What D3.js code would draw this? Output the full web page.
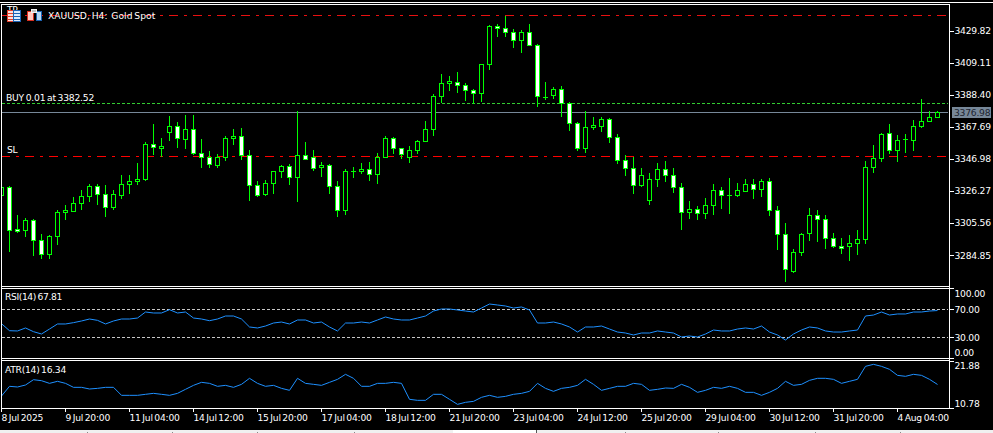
<!DOCTYPE html>
<html>
<head>
<meta charset="utf-8">
<script src="https://cdn.jsdelivr.net/npm/d3@7"></script>
<style>
html,body{margin:0;padding:0;background:#000;overflow:hidden}
svg{display:block}
text{font-family:"DejaVu Sans",sans-serif;font-size:9.2px;fill:#fff;letter-spacing:-.25px;word-spacing:-1px}
</style>
</head>
<body>
<svg id="c" width="993" height="433"></svg>
<script>
const opens=[3323.2,3328.4,3301.3,3300.6,3307.1,3294.2,3285.1,3296.7,3312.2,3312.9,3318.1,3322.6,3329.0,3323.9,3315.5,3323.2,3330.3,3332.3,3333.6,3356.2,3353.6,3363.9,3367.8,3359.4,3365.9,3350.4,3347.8,3342.6,3347.8,3360.1,3361.3,3349.1,3329.7,3323.9,3331.0,3338.7,3342.0,3334.9,3349.1,3347.8,3341.3,3342.6,3329.0,3313.5,3338.7,3338.7,3340.0,3336.8,3347.8,3360.1,3353.6,3347.8,3352.3,3358.1,3365.9,3387.2,3395.6,3396.2,3394.3,3391.1,3389.1,3407.9,3432.4,3431.1,3428.5,3423.4,3428.5,3420.1,3386.5,3387.8,3391.7,3382.7,3369.7,3353.6,3367.2,3367.8,3372.3,3360.7,3345.8,3340.7,3329.7,3320.0,3333.6,3340.0,3336.2,3328.4,3312.2,3314.2,3311.6,3316.8,3326.5,3323.2,3323.2,3325.8,3330.3,3327.1,3332.3,3313.5,3298.0,3274.1,3286.4,3298.7,3310.3,3307.7,3295.5,3290.3,3290.3,3292.2,3294.8,3341.3,3347.1,3363.3,3352.3,3359.4,3358.8,3367.8,3371.0,3373.6];
const highs=[3328.4,3329.0,3310.3,3308.4,3307.7,3298.0,3297.4,3313.5,3316.8,3321.9,3326.5,3330.3,3330.3,3329.7,3326.5,3336.2,3336.2,3343.9,3357.5,3369.1,3360.1,3374.3,3370.4,3374.9,3374.9,3359.4,3351.7,3349.7,3361.3,3365.9,3366.5,3352.3,3332.3,3332.9,3338.7,3342.6,3343.3,3377.5,3357.5,3352.3,3344.5,3343.3,3332.3,3340.0,3341.3,3343.9,3344.5,3350.4,3361.3,3360.7,3353.6,3354.9,3358.8,3371.0,3388.5,3401.4,3400.1,3402.7,3395.6,3391.7,3407.9,3433.0,3433.7,3438.9,3430.5,3429.8,3433.7,3420.8,3396.2,3393.0,3393.6,3383.3,3370.4,3377.5,3373.6,3373.6,3373.0,3362.6,3349.1,3347.8,3340.7,3337.4,3343.9,3345.2,3340.7,3331.0,3319.4,3316.1,3321.3,3330.3,3328.4,3334.2,3331.0,3333.6,3333.6,3333.6,3334.2,3316.1,3305.1,3288.3,3298.7,3314.8,3313.5,3310.3,3298.7,3295.5,3297.4,3300.6,3345.2,3355.5,3363.3,3369.1,3362.0,3362.6,3371.7,3385.2,3377.5,3377.5];
const lows=[3323.2,3287.1,3299.3,3296.7,3284.5,3282.5,3282.5,3291.6,3307.7,3312.9,3314.2,3319.4,3317.4,3309.7,3314.2,3321.3,3324.5,3330.3,3332.9,3349.7,3348.4,3358.8,3354.2,3353.6,3349.7,3341.3,3341.3,3341.3,3345.8,3356.2,3346.5,3320.0,3322.6,3323.2,3324.5,3334.9,3330.3,3319.4,3346.5,3339.4,3335.5,3324.5,3309.7,3311.0,3334.9,3337.4,3332.9,3331.0,3347.8,3350.4,3347.1,3344.5,3350.4,3358.1,3362.0,3383.3,3391.1,3389.8,3384.6,3382.7,3384.0,3404.6,3425.9,3425.9,3418.8,3415.6,3420.1,3380.7,3385.2,3385.9,3374.3,3365.2,3352.3,3351.0,3365.9,3364.6,3357.5,3343.9,3336.2,3324.5,3329.0,3317.4,3329.0,3332.3,3325.2,3301.3,3308.4,3307.7,3308.4,3311.0,3314.8,3311.6,3322.6,3325.8,3321.3,3322.6,3310.3,3288.3,3267.7,3273.5,3284.5,3294.2,3293.5,3289.0,3289.6,3285.8,3281.2,3285.1,3292.2,3338.1,3345.2,3350.4,3345.2,3351.0,3352.3,3367.2,3371.0,3373.6];
const closes=[3328.4,3300.6,3300.0,3307.1,3294.2,3285.1,3296.7,3312.2,3313.5,3318.1,3322.6,3329.0,3323.9,3315.5,3323.9,3330.3,3332.3,3333.6,3356.2,3354.2,3354.9,3367.8,3360.1,3365.9,3350.4,3347.8,3343.3,3347.8,3360.1,3361.3,3349.1,3329.7,3323.2,3331.0,3338.7,3342.0,3334.9,3349.1,3346.5,3340.7,3342.6,3329.0,3313.5,3338.7,3338.7,3340.0,3336.8,3347.8,3360.1,3353.6,3349.7,3352.3,3358.1,3365.9,3387.2,3395.6,3396.9,3394.3,3391.1,3389.1,3407.9,3432.4,3431.1,3428.5,3423.4,3428.5,3420.1,3387.2,3386.5,3391.7,3382.7,3369.7,3353.6,3367.2,3368.4,3372.3,3360.7,3345.8,3340.7,3329.7,3336.2,3333.6,3340.0,3336.2,3328.4,3312.2,3314.2,3311.6,3316.8,3326.5,3323.2,3323.2,3326.5,3330.3,3327.1,3332.3,3313.5,3298.0,3275.4,3286.4,3298.0,3310.3,3307.7,3295.5,3290.3,3289.0,3292.2,3294.8,3341.3,3347.1,3362.6,3352.3,3358.8,3359.4,3367.8,3371.0,3373.6,3376.8];
const rsiValues=[49.0,39.0,38.6,42.9,37.6,34.3,41.4,48.6,48.6,50.5,52.9,55.7,53.8,48.6,52.9,55.7,55.7,57.1,65.7,64.3,64.3,69.0,64.3,65.7,57.1,55.7,53.3,55.7,60.0,60.0,55.7,44.3,42.9,45.7,50.0,51.4,48.6,54.3,54.3,50.0,51.4,44.3,38.6,50.0,50.0,51.4,50.0,54.3,58.6,55.7,54.3,54.3,57.1,60.0,67.1,70.0,70.0,68.6,67.1,65.7,71.4,77.1,75.7,74.3,71.4,72.9,68.6,50.0,50.0,51.4,48.6,44.3,37.1,44.3,44.3,45.7,41.4,37.1,35.7,32.9,35.7,35.7,38.6,37.1,35.7,30.0,31.4,30.0,34.3,40.0,38.6,38.6,41.4,42.9,41.4,45.7,37.1,32.9,25.7,34.3,40.0,44.3,42.9,38.6,37.1,37.1,38.6,40.0,60.0,61.4,65.7,61.4,62.9,62.9,65.7,65.7,67.1,67.81];
const atrValues=[13.61,15.90,15.74,16.21,17.47,17.23,16.60,17.08,16.60,15.66,15.66,15.27,15.42,15.66,15.66,13.77,13.77,13.77,14.01,14.24,14.01,13.77,14.24,15.19,16.13,16.84,16.60,15.90,16.13,15.66,16.37,17.79,16.60,15.90,16.13,15.42,14.95,17.79,16.60,16.37,16.13,16.84,17.55,18.73,17.79,15.90,15.90,16.60,16.60,16.84,16.60,12.83,12.59,12.59,14.01,14.01,12.83,11.64,12.12,12.35,13.30,13.77,13.30,13.53,14.01,14.24,14.71,16.60,15.42,14.71,15.42,15.66,16.13,17.55,16.37,14.95,15.42,15.90,15.90,16.60,16.37,14.95,15.19,15.50,15.42,16.37,15.66,14.48,14.95,15.66,15.42,15.90,15.42,14.48,14.48,13.77,14.48,15.42,17.08,16.13,16.37,17.31,17.79,17.79,17.55,16.60,17.08,17.55,20.62,21.09,20.62,19.91,18.49,18.26,18.73,18.49,17.55,16.34];
const priceTicks=[3429.82,3409.11,3388.40,3367.69,3346.98,3326.27,3305.56,3284.85];
const rsiTicks=[100,70,30,0];
const rsiLevels=[70,30];
const atrTicks=[21.88,10.78];
const timeTickIndex=[0,8,16,24,32,40,48,56,64,72,80,88,96,104,112];
const timeLabels=["8 Jul 2025","9 Jul 20:00","11 Jul 04:00","14 Jul 12:00","15 Jul 20:00","17 Jul 04:00","18 Jul 12:00","21 Jul 20:00","23 Jul 04:00","24 Jul 12:00","25 Jul 20:00","29 Jul 04:00","30 Jul 12:00","31 Jul 20:00","4 Aug 04:00"];
const bidPrice=3376.98, buyPrice=3382.52, slPrice=3348.4, tpPrice=3439.6;
const rsiNow=67.81, atrNow=16.34;

const svg=d3.select("#c");
const GREEN="#00ff00",WHITE="#ffffff";
svg.append("rect").attr("width",993).attr("height",433).attr("fill","#000");

const x=d3.scaleLinear().domain([0,117]).range([1,937]);
const yP=d3.scaleLinear().domain([3284.85,3429.82]).range([255,30.5]);
const yR=d3.scaleLinear().domain([0,100]).range([358,288]);
const yA=d3.scaleLinear().domain([10.78,21.88]).range([408,361]);
const cr=v=>Math.floor(v)+.5;
const cx=i=>Math.round(x(i))+.5;

// price level lines
const g=svg.append("g").attr("shape-rendering","crispEdges");
function hline(y,color,dash,x1=2,x2=948){
  g.append("line").attr("x1",x1).attr("x2",x2).attr("y1",cr(y)).attr("y2",cr(y))
   .attr("stroke",color).attr("stroke-dasharray",dash);
}
hline(yP(tpPrice),"#e81010","9 6 3 6",1,946);
hline(yP(slPrice),"#ff0000","9 6 3 6",1,946);
hline(yP(buyPrice),"#32cd32","3 2");
hline(yP(bidPrice),"#778899",null);

// candles
const idx=d3.range(opens.length);
const cg=svg.append("g").attr("clip-path","url(#mainClip)");
svg.append("clipPath").attr("id","mainClip").append("rect").attr("x",2).attr("y",5).attr("width",947).attr("height",281);
const wicks=cg.append("g").attr("shape-rendering","crispEdges");
wicks.selectAll("line").data(idx).join("line")
  .attr("x1",cx).attr("x2",cx)
  .attr("y1",i=>Math.floor(yP(highs[i]))).attr("y2",i=>Math.floor(yP(lows[i]))+1)
  .attr("stroke",GREEN);
const bodies=cg.append("g");
bodies.selectAll("rect").data(idx).join("rect")
  .attr("x",i=>cx(i)-2).attr("width",4)
  .attr("y",i=>cr(yP(Math.max(opens[i],closes[i]))))
  .attr("height",i=>cr(yP(Math.min(opens[i],closes[i])))-cr(yP(Math.max(opens[i],closes[i]))))
  .attr("fill",i=>closes[i]<=opens[i]?WHITE:"#000")
  .attr("stroke",GREEN);
bodies.selectAll("line").data(idx.filter(i=>cr(yP(opens[i]))===cr(yP(closes[i])))).join("line")
  .attr("x1",i=>cx(i)-2.5).attr("x2",i=>cx(i)+2.5)
  .attr("y1",i=>cr(yP(opens[i]))).attr("y2",i=>cr(yP(opens[i])))
  .attr("stroke",GREEN);

// RSI levels and lines
rsiLevels.forEach(v=>{
  g.append("line").attr("x1",2).attr("x2",948).attr("y1",cr(yR(v))).attr("y2",cr(yR(v)))
   .attr("stroke","#c8c8c8").attr("stroke-dasharray","3 2");
});
const lnR=d3.line().x((d,i)=>cx(i)).y(d=>yR(d));
const lnA=d3.line().x((d,i)=>cx(i)).y(d=>yA(d));
svg.append("clipPath").attr("id","subClip").append("rect").attr("x",2).attr("y",289).attr("width",947).attr("height",119);
svg.append("path").attr("d",lnR(rsiValues)).attr("fill","none").attr("stroke","#1e90ff").attr("clip-path","url(#subClip)");
svg.append("path").attr("d",lnA(atrValues)).attr("fill","none").attr("stroke","#1e90ff").attr("clip-path","url(#subClip)");

// frames
const fg=svg.append("g").attr("shape-rendering","crispEdges").attr("stroke",WHITE);
[[0,993,2,2],[1,950,4,4],[1,950,286,286],[1,950,288,288],[1,950,358,358],[1,950,360,360],[1,950,408,408],[1,1,4,408],[949,949,4,408]]
 .forEach(d=>fg.append("line").attr("x1",d[0]+.5*(d[0]===d[1])).attr("x2",d[1]+.5*(d[0]===d[1])).attr("y1",d[2]+.5*(d[2]===d[3])).attr("y2",d[3]+.5*(d[2]===d[3])));

// axes
function rightAxis(scale,ticks,fmt,top,bottom){
  const a=svg.append("g").attr("transform","translate(949.5,0)")
    .call(d3.axisRight(scale).tickValues(ticks).tickSize(4).tickPadding(0).tickFormat(fmt));
  a.select(".domain").remove();
  a.selectAll("line").attr("stroke",WHITE).attr("shape-rendering","crispEdges");
  a.selectAll("text").attr("x",5).attr("dy",null)
    .attr("y",d=>Math.max(top,Math.min(bottom,scale(d)))+3-scale(d));
  return a;
}
const f2=d3.format(".2f");
rightAxis(yP,priceTicks,f2,0,999);
rightAxis(yR,rsiTicks,f2,293.3,352.7);
rightAxis(yA,atrTicks,f2,365.7,403);

const xa=svg.append("g").attr("transform","translate(0,408)")
  .call(d3.axisBottom(x).tickValues(timeTickIndex).tickSize(4).tickPadding(0)
    .tickFormat(i=>timeLabels[timeTickIndex.indexOf(i)]));
xa.select(".domain").remove();
xa.selectAll("line").attr("stroke",WHITE).attr("shape-rendering","crispEdges");
xa.selectAll("text").attr("text-anchor","start").attr("y",13).attr("dy",null).attr("x",0);

// current price tag
svg.append("rect").attr("x",952).attr("y",cr(yP(bidPrice))-5.5).attr("width",39).attr("height",11).attr("fill","#778899");
svg.append("text").attr("x",954).attr("y",cr(yP(bidPrice))+3).style("fill","#1c2430").text(f2(bidPrice));

// labels
function label(t,xp,yp,len){
  const n=svg.append("text").attr("x",xp).attr("y",yp).text(t);
  if(len) n.attr("textLength",len);
}
label("TP",7,13);
label("BUY 0.01 at "+f2(buyPrice),6,101,88);
label("SL",7,153);
label("RSI(14) "+f2(rsiNow),5,300,57);
label("ATR(14) "+f2(atrNow),5,373,61);
label("XAUUSD, H4:\u00a0\u00a0Gold Spot",48,19,107);

// toolbar icons
const ic=svg.append("g").attr("shape-rendering","crispEdges");
function r(x0,y0,w,h,fill,stroke){ic.append("rect").attr("x",x0+.5).attr("y",y0+.5).attr("width",w).attr("height",h).attr("fill",fill).attr("stroke",stroke||"none");}
r(7,10,6,11,"#ffe0dc","#e0402a");
r(13,10,7,11,"#dcecff","#1c64b4");
[13,16,19].forEach(yy=>{ic.append("line").attr("x1",8).attr("x2",13).attr("y1",yy+.5).attr("y2",yy+.5).attr("stroke","#e0402a");
 ic.append("line").attr("x1",13).attr("x2",20).attr("y1",yy+.5).attr("y2",yy+.5).attr("stroke","#1c64b4");});
r(27,11,6,9,"#ffc8c0","#d83020");
r(36,11,5,9,"#b8d8f4","#1c64b4");
r(31,9,5,3,"#c0c0c0","#f0f0f0");

// bottom tab strip
const b=svg.append("g").attr("shape-rendering","crispEdges");
b.append("rect").attr("x",0).attr("y",430).attr("width",993).attr("height",3).attr("fill","#f0f0f0");
b.append("rect").attr("x",453).attr("y",429.5).attr("width",83).attr("height",3.5).attr("fill","#fff");
b.append("line").attr("x1",536.5).attr("x2",536.5).attr("y1",430).attr("y2",433).attr("stroke","#555");
[87,172,257,354,625,718,815,900].forEach(v=>b.append("line").attr("x1",v+.5).attr("x2",v+.5).attr("y1",432).attr("y2",433).attr("stroke","#888"));
</script>
</body>
</html>
